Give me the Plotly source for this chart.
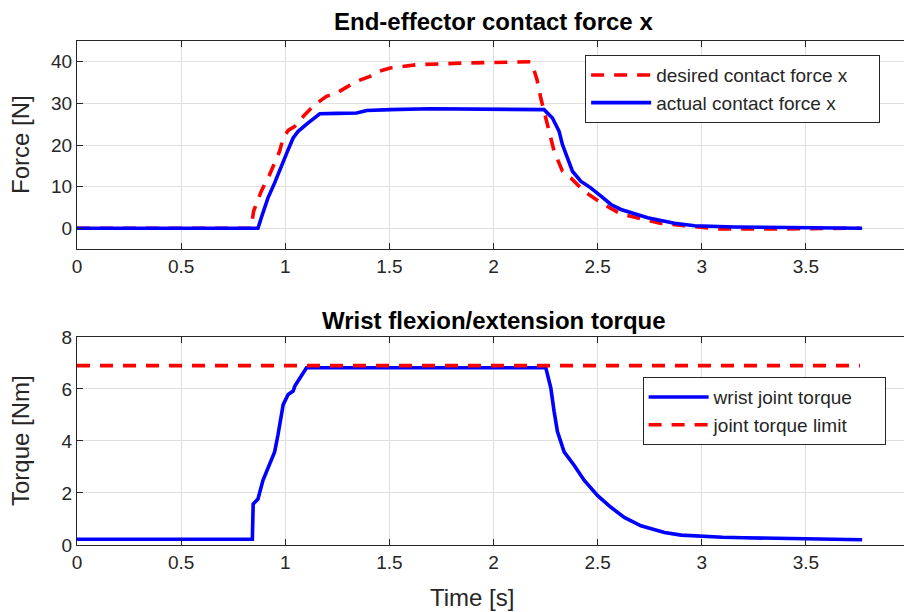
import plotly.graph_objects as go

# ---- data ----
t_desired = [0, 0.838, 0.84, 0.848, 0.885, 0.925, 0.973, 0.99, 1.014, 1.046, 1.094, 1.142,
             1.198, 1.247, 1.295, 1.343, 1.407, 1.447, 1.504, 1.632, 1.857, 2.0, 2.178, 2.194,
             2.21, 2.227, 2.259, 2.291, 2.331, 2.371, 2.435, 2.516, 2.612, 2.74, 2.8, 2.917,
             3.0, 3.078, 3.31, 3.5, 3.64, 3.76]
f_desired = [0, 0, 1.4, 4.1, 8.9, 12.9, 18.5, 21.7, 23.5, 24.5, 27.3, 29.7,
             31.7, 32.5, 33.9, 35.3, 36.5, 37.7, 38.5, 39.3, 39.7, 39.9, 40.0, 38.1,
             35.5, 31.3, 24.9, 18.5, 13.7, 12.1, 8.9, 6.1, 3.4, 1.8, 1.2, 0.6,
             0.2, -0.2, -0.2, -0.1, 0.0, 0.0]

t_actual = [0, 0.869, 0.885, 0.917, 0.949, 0.989, 1.014, 1.038, 1.062, 1.11, 1.166, 1.25,
            1.343, 1.391, 1.455, 1.504, 1.696, 2.0, 2.21, 2.243, 2.283, 2.315, 2.331, 2.355,
            2.379, 2.419, 2.467, 2.516, 2.564, 2.612, 2.676, 2.74, 2.869, 2.965, 3.158, 3.48, 3.77]
f_actual = [0, 0, 2.5, 7.3, 10.9, 16.1, 18.9, 21.7, 23.3, 25.3, 27.5, 27.6,
            27.7, 28.3, 28.3, 28.5, 28.7, 28.7, 28.7, 28.5, 26.5, 23.3, 20.1, 16.9,
            13.7, 11.3, 9.7, 7.7, 5.7, 4.5, 3.4, 2.5, 1.2, 0.6, 0.3, 0.15, 0.0]

t_torque = [0, 0.842, 0.846, 0.869, 0.893, 0.925, 0.949, 0.965, 0.982, 0.99, 1.014, 1.038,
            1.046, 1.102, 2.251, 2.275, 2.291, 2.307, 2.339, 2.387, 2.435, 2.5, 2.564, 2.628,
            2.708, 2.821, 2.901, 2.998, 3.1, 3.2, 3.32, 3.45, 3.6, 3.77]
torque = [0.22, 0.22, 1.58, 1.77, 2.49, 3.13, 3.58, 4.23, 5.01, 5.4, 5.79, 5.92,
          6.11, 6.82, 6.82, 6.05, 5.14, 4.36, 3.58, 3.07, 2.49, 1.9, 1.45, 1.06,
          0.74, 0.48, 0.38, 0.33, 0.30, 0.28, 0.26, 0.25, 0.22, 0.2]

t_limit = [0, 3.76]
torque_limit = [6.9, 6.9]

x_ticks = [0, 0.5, 1, 1.5, 2, 2.5, 3, 3.5, 4]
x_tick_text = ["0", "0.5", "1", "1.5", "2", "2.5", "3", "3.5", "4"]
force_ticks = [0, 10, 20, 30, 40]
torque_ticks = [0, 2, 4, 6, 8]

# ---- figure ----
FONT = "Liberation Sans, Arial, sans-serif"
AX = "#262626"
GRID = "#dfdfdf"
RED = "#ff0000"
BLUE = "#0000ff"
DASH = "13px,10px"
LW = 3.6
PAD = "\u00a0" * 5

fig = go.Figure()
fig.add_trace(go.Scatter(x=t_desired, y=f_desired, mode="lines", name="desired contact force x" + PAD,
                         line=dict(color=RED, width=LW, dash=DASH), xaxis="x", yaxis="y", legend="legend"))
fig.add_trace(go.Scatter(x=t_actual, y=f_actual, mode="lines", name="actual contact force x",
                         line=dict(color=BLUE, width=LW), xaxis="x", yaxis="y", legend="legend"))
fig.add_trace(go.Scatter(x=t_torque, y=torque, mode="lines", name="wrist joint torque" + PAD,
                         line=dict(color=BLUE, width=LW), xaxis="x2", yaxis="y2", legend="legend2"))
fig.add_trace(go.Scatter(x=t_limit, y=torque_limit, mode="lines", name="joint torque limit",
                         line=dict(color=RED, width=LW, dash=DASH), xaxis="x2", yaxis="y2", legend="legend2"))

axis_common = dict(showline=True, linecolor=AX, linewidth=1, mirror="ticks", ticks="inside",
                   ticklen=6, tickcolor=AX, showgrid=True, gridcolor=GRID, gridwidth=1,
                   zeroline=False, tickfont=dict(family=FONT, size=19, color=AX))

top_dom = [0.5873, 1.0]
bot_dom = [0.0, 0.4127]

# the page body adds an 8px offset, so the figure is 8px smaller on each side
fig.update_layout(
    width=904, height=604,
    margin=dict(l=69, r=2, t=33, b=67),
    paper_bgcolor="white", plot_bgcolor="white",
    font=dict(family=FONT, color=AX),
    xaxis=dict(axis_common, range=[0, 4], tickvals=x_ticks, ticktext=x_tick_text, anchor="y", domain=[0, 1]),
    yaxis=dict(axis_common, range=[-5, 45], tickvals=force_ticks, domain=top_dom, anchor="x"),
    xaxis2=dict(axis_common, range=[0, 4], tickvals=x_ticks, ticktext=x_tick_text, anchor="y2", domain=[0, 1]),
    yaxis2=dict(axis_common, range=[0, 8], tickvals=torque_ticks, domain=bot_dom, anchor="x2"),
    legend=dict(x=0.61, y=0.972, xanchor="left", yanchor="top", bgcolor="white",
                bordercolor=AX, borderwidth=1, font=dict(family=FONT, size=19, color=AX),
                itemwidth=60, tracegroupgap=0),
    legend2=dict(x=0.679, y=0.333, xanchor="left", yanchor="top", bgcolor="white",
                 bordercolor=AX, borderwidth=1, font=dict(family=FONT, size=19, color=AX),
                 itemwidth=60, tracegroupgap=0),
    showlegend=True,
)

annots = [
    dict(text="<b>End-effector contact force x</b>", x=0.5, y=(545 - 22) / 504, font=dict(size=24, color="black")),
    dict(text="<b>Wrist flexion/extension torque</b>", x=0.5, y=(545 - 320) / 504, font=dict(size=24, color="black")),
    dict(text="Force [N]", x=-0.0684, y=(545 - 145) / 504, textangle=-90, font=dict(size=24, color=AX)),
    dict(text="Torque [Nm]", x=-0.0684, y=(545 - 441) / 504, textangle=-90, font=dict(size=24, color=AX)),
    dict(text="Time [s]", x=(472 - 77) / 833, y=(545 - 597) / 504, font=dict(size=24, color=AX)),
]
for a in annots:
    fig.add_annotation(xref="paper", yref="paper", showarrow=False, xanchor="center", yanchor="middle",
                       font_family=FONT, **a)

fig.write_html("out.html")
